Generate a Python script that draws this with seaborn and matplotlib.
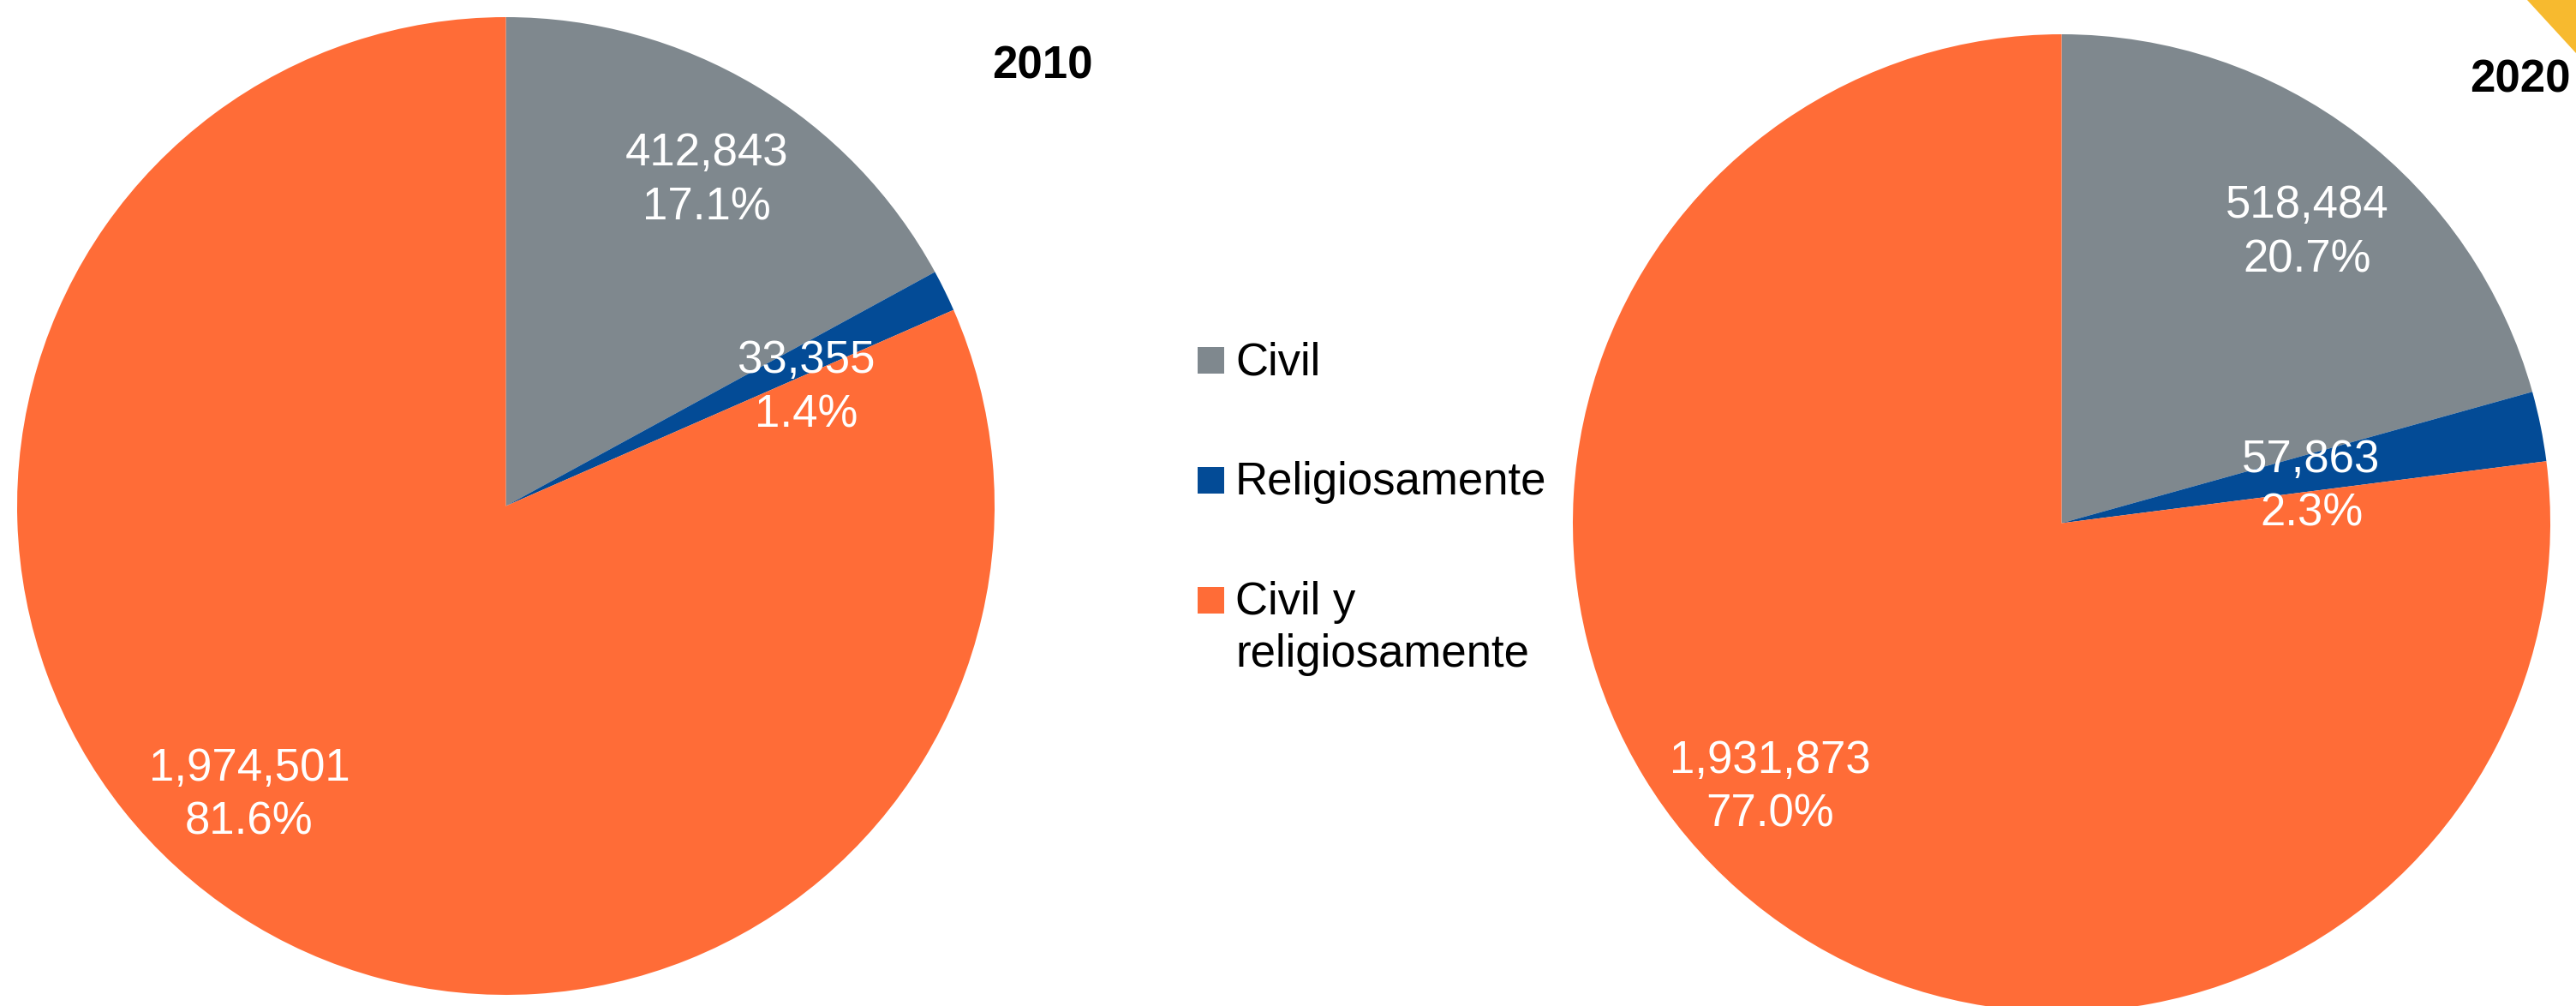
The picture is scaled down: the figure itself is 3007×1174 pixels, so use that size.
import matplotlib
matplotlib.use("Agg")
import matplotlib.pyplot as plt
from matplotlib.patches import Rectangle, Polygon
import seaborn as sns

# ---- data ----
categories = ["Civil", "Religiosamente", "Civil y religiosamente"]
legend_labels = ["Civil", "Religiosamente", "Civil y\nreligiosamente"]
years = ["2010", "2020"]
values_2010 = [412843, 33355, 1974501]
values_2020 = [518484, 57863, 1931873]
colors = ["#7f888e", "#034b96", "#ff6c37"]

sns.set_theme(style="white")
plt.rcParams["font.family"] = ["Liberation Sans", "DejaVu Sans"]

W, H = 3007, 1174
fig = plt.figure(figsize=(W / 100, H / 100), dpi=100)
fig.patch.set_facecolor("white")

# layout (pixels): pie bounding boxes (left, top, diameter)
pie_boxes = [(20, 20, 1141), (1836, 40, 1141)]
# label centers in data coords (radius = 1)
label_pos = [
    [(0.411, 0.665), (0.614, 0.241), (-0.525, -0.592)],
    [(0.502, 0.594), (0.511, 0.074), (-0.597, -0.541)],
]
title_pos = [(1217, 77), (2942, 93)]
FS = 38

for k, vals in enumerate([values_2010, values_2020]):
    l, t, d = pie_boxes[k]
    ax = fig.add_axes([l / W, 1 - (t + d) / H, d / W, d / H])
    wedges, _ = ax.pie(vals, colors=colors, startangle=90, counterclock=False,
                       radius=1, wedgeprops=dict(linewidth=0))
    ax.set_xlim(-1, 1)
    ax.set_ylim(-1, 1)
    ax.set_aspect("equal")
    ax.axis("off")
    total = sum(vals)
    for v, (x, y) in zip(vals, label_pos[k]):
        ax.text(x, y, f"{v:,}\n{100 * v / total:.1f}%", color="white",
                fontsize=FS, ha="center", va="center", linespacing=1.34,
                multialignment="center")
    tx, ty = title_pos[k]
    fig.text(tx / W, 1 - ty / H, years[k], fontsize=FS, fontweight="bold",
             ha="center", va="center", color="black")

# legend (manual)
sq = 31
leg_y = [420, 560, 700]  # square centers
baselines = [437, 577, 717]
line_step = 61
for lab, c, yc, yb in zip(legend_labels, colors, leg_y, baselines):
    fig.patches.append(Rectangle((1398 / W, 1 - (yc + sq / 2) / H), sq / W, sq / H,
                                 transform=fig.transFigure, facecolor=c,
                                 edgecolor="none"))
    for i, line in enumerate(lab.split("\n")):
        fig.text(1442 / W, 1 - (yb + i * line_step) / H, line, fontsize=FS,
                 ha="left", va="baseline", color="black")

# corner decoration
fig.patches.append(Polygon([(2950 / W, 1.0), (1.0, 1.0), (1.0, 1 - 62 / H)],
                           closed=True, transform=fig.transFigure,
                           facecolor="#f7ba2f", edgecolor="none"))

fig.savefig("out.png", dpi=100, facecolor="white")
